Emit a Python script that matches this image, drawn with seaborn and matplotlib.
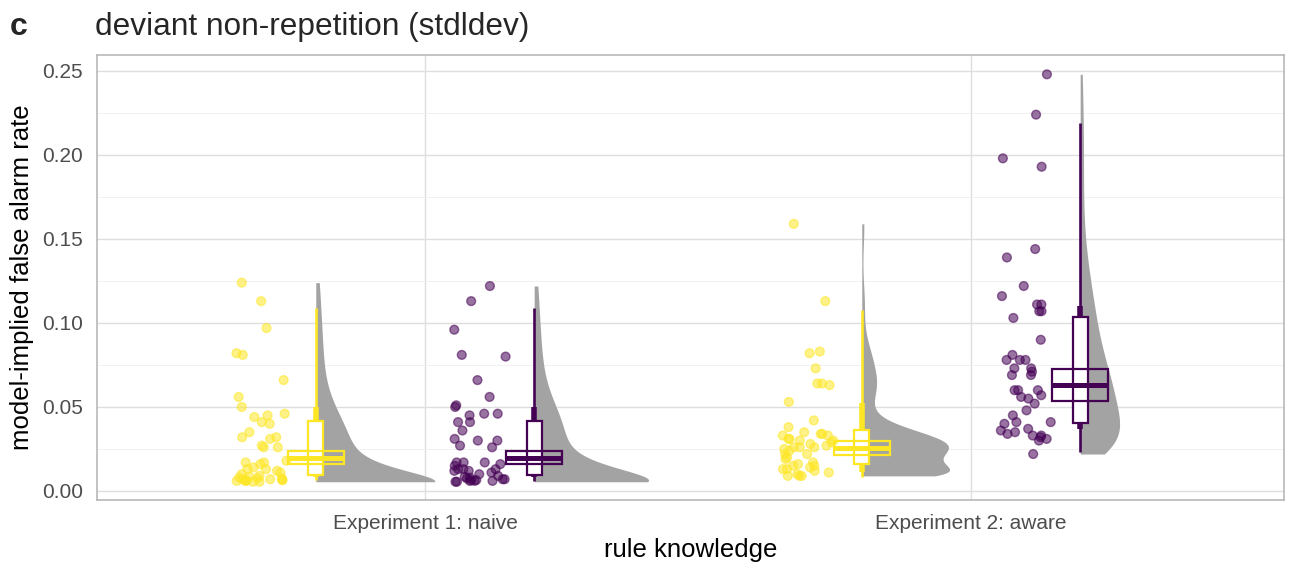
import numpy as np
import pandas as pd
import matplotlib
matplotlib.use("Agg")
import matplotlib.pyplot as plt
from matplotlib.patches import Rectangle
import seaborn as sns

# ---- data ---------------------------------------------------------------
experiments = ["Experiment 1: naive", "Experiment 2: aware"]
conditions = ["first", "second"]
cond_colors = {"first": "#FDE725", "second": "#440154"}

exp1_first = [0.124, 0.113, 0.097, 0.082, 0.081, 0.066, 0.056, 0.050, 0.046, 0.045,
              0.044, 0.041, 0.040, 0.035, 0.032, 0.032, 0.031, 0.027, 0.026, 0.026,
              0.018, 0.017, 0.017, 0.016, 0.014, 0.013, 0.013, 0.012, 0.011, 0.010,
              0.009, 0.0085, 0.008, 0.0075, 0.0075, 0.007, 0.007, 0.0065, 0.0065, 0.006,
              0.006, 0.006, 0.0055, 0.0055, 0.0065]
exp1_second = [0.122, 0.113, 0.096, 0.081, 0.080, 0.066, 0.056, 0.051, 0.050, 0.046,
               0.046, 0.045, 0.041, 0.041, 0.036, 0.031, 0.030, 0.030, 0.027, 0.026,
               0.017, 0.017, 0.017, 0.016, 0.015, 0.013, 0.013, 0.013, 0.012, 0.012,
               0.011, 0.010, 0.009, 0.0085, 0.008, 0.0075, 0.007, 0.007, 0.0065, 0.0065,
               0.006, 0.006, 0.0055, 0.0055, 0.006]
exp2_first = [0.159, 0.113, 0.083, 0.082, 0.073, 0.064, 0.064, 0.063, 0.053, 0.042,
              0.038, 0.035, 0.034, 0.033, 0.034, 0.033, 0.030, 0.031, 0.030, 0.031,
              0.026, 0.026, 0.025, 0.027, 0.026, 0.024, 0.022, 0.022, 0.017, 0.015,
              0.013, 0.013, 0.014, 0.015, 0.016, 0.012, 0.009, 0.009, 0.010, 0.009,
              0.011, 0.020, 0.019, 0.028, 0.029]
exp2_second = [0.248, 0.224, 0.198, 0.193, 0.144, 0.139, 0.122, 0.116, 0.111, 0.111,
               0.107, 0.107, 0.103, 0.090, 0.081, 0.078, 0.078, 0.078, 0.073, 0.073,
               0.069, 0.069, 0.071, 0.060, 0.060, 0.060, 0.057, 0.056, 0.055, 0.052,
               0.048, 0.045, 0.041, 0.040, 0.041, 0.037, 0.036, 0.034, 0.033, 0.032,
               0.033, 0.031, 0.030, 0.035, 0.022]

# interval summaries per group (order: exp1 first, exp1 second, exp2 first, exp2 second)
outer_lo = [0.0065, 0.0060, 0.0085, 0.0234]
outer_hi = [0.1090, 0.1090, 0.1077, 0.2188]
inner_lo = [0.0085, 0.0085, 0.0115, 0.0367]
inner_hi = [0.0500, 0.0500, 0.0526, 0.1100]
box_lo = [0.0095, 0.0095, 0.0159, 0.0407]
box_hi = [0.0417, 0.0417, 0.0363, 0.1037]
mean_lo = [0.0160, 0.0160, 0.0214, 0.0536]
mean_mid = [0.0198, 0.0198, 0.0258, 0.0631]
mean_hi = [0.0238, 0.0238, 0.0300, 0.0726]

y_ticks = [0.00, 0.05, 0.10, 0.15, 0.20, 0.25]

# ---- long-form table ------------------------------------------------------
groups = [(0, "first", exp1_first), (0, "second", exp1_second),
          (1, "first", exp2_first), (1, "second", exp2_second)]
dodge = {"first": -0.2, "second": 0.2}
rows = []
for ei, cond, vals in groups:
    for v in vals:
        rows.append({"experiment": experiments[ei], "condition": cond,
                     "pos": ei + dodge[cond], "rate": v})
df = pd.DataFrame(rows)

rng = np.random.default_rng(11)
df["xj"] = df["pos"] - 0.1 + rng.uniform(-0.048, 0.048, len(df))


def nrd0(v):
    v = np.asarray(v)
    sd = v.std(ddof=1)
    iqr = np.subtract(*np.percentile(v, [75, 25]))
    lo = min(sd, iqr / 1.34) if iqr > 0 else sd
    return 0.9 * lo * len(v) ** -0.2


def trimmed_sqrt_kde(v, n=512):
    """Gaussian KDE on square-root rates, mapped back to the rate scale (trimmed)."""
    v = np.asarray(v)
    sv = np.sqrt(v)
    grid = np.linspace(v.min(), v.max(), n)
    bw = nrd0(sv)
    z = (np.sqrt(grid)[:, None] - sv[None, :]) / bw
    dens = np.exp(-0.5 * z ** 2).sum(axis=1) / (len(v) * bw * np.sqrt(2 * np.pi))
    return grid, dens / (2 * np.sqrt(grid))


# ---- figure ---------------------------------------------------------------
sns.set_theme(style="white")
plt.rcParams["font.family"] = ["Liberation Sans", "DejaVu Sans"]

W, H = 1301, 564
fig = plt.figure(figsize=(W / 100, H / 100), dpi=100)
ax = fig.add_axes([97 / W, 1 - 500 / H, (1284 - 97) / W, (500 - 55) / H])

positions = [g[0] + dodge[g[1]] for g in groups]

# half violins on the right of each group, area-scaled across groups
kdes = [trimmed_sqrt_kde(df.loc[df["pos"] == p, "rate"]) for p in positions]
dmax = max(d.max() for _, d in kdes)
half_width = 0.218
for p, (grid, dens) in zip(positions, kdes):
    ax.fill_betweenx(grid, p, p + half_width * dens / dmax, color="#A3A3A3",
                     linewidth=0, zorder=2)

# jittered points
sns.scatterplot(data=df, x="xj", y="rate", hue="condition", palette=cond_colors,
                s=40, alpha=0.55, linewidth=1.0, legend=False, zorder=3, ax=ax)
for coll in ax.collections[-1:]:
    coll.set_edgecolors(coll.get_facecolors())

# interval lines, box and mean crossbar
for i, (ei, cond, _) in enumerate(groups):
    x = positions[i]
    col = cond_colors[cond]
    ax.vlines(x, outer_lo[i], outer_hi[i], color=col, linewidth=1.9, zorder=4)
    ax.vlines(x, inner_lo[i], inner_hi[i], color=col, linewidth=4.0, zorder=4)
    bw = 0.0135
    ax.add_patch(Rectangle((x - bw, box_lo[i]), 2 * bw, box_hi[i] - box_lo[i],
                           facecolor="white", edgecolor=col, linewidth=1.6, zorder=5))
    cw = 0.051
    ax.add_patch(Rectangle((x - cw, mean_lo[i]), 2 * cw, mean_hi[i] - mean_lo[i],
                           facecolor="none", edgecolor=col, linewidth=1.6, zorder=6))
    ax.hlines(mean_mid[i], x - cw, x + cw, color=col, linewidth=3.6, zorder=6)

# ---- axes styling ---------------------------------------------------------
ax.set_xlim(-0.6007, 1.5733)
ax.set_ylim(-0.00536, 0.2595)
ax.set_xticks([0, 1])
ax.set_xticklabels(experiments)
ax.set_yticks(y_ticks)
ax.set_yticklabels([f"{t:.2f}" for t in y_ticks])
ax.set_yticks([0.025, 0.075, 0.125, 0.175, 0.225], minor=True)
ax.set_xlabel("")
ax.set_ylabel("")

ax.grid(True, which="major", color="#DEDEDE", linewidth=1.0, zorder=0)
ax.grid(True, which="minor", axis="y", color="#EFEFEF", linewidth=0.6, zorder=0)
ax.set_axisbelow(True)
for sp in ax.spines.values():
    sp.set_visible(True)
    sp.set_color("#B3B3B3")
    sp.set_linewidth(1.1)
ax.tick_params(axis="both", which="major", length=3.5, width=0.9, color="#B3B3B3",
               labelsize=15, labelcolor="#4D4D4D", pad=6.5)
ax.tick_params(axis="x", which="major", pad=6.5)
ax.tick_params(axis="y", which="minor", length=0)

fig.text(690.5 / W, 1 - 550 / H, "rule knowledge", fontsize=18.5, color="black",
         ha="center", va="center")
fig.text(22 / W, 1 - 277.5 / H, "model-implied false alarm rate", fontsize=18.5,
         color="black", ha="center", va="center", rotation=90)
fig.text(95 / W, 1 - 35 / H, "deviant non-repetition (stdldev)", fontsize=22.8,
         ha="left", va="baseline")
fig.text(10 / W, 1 - 35 / H, "c", fontsize=23, fontweight="bold",
         ha="left", va="baseline")

fig.savefig("out.png", dpi=100, facecolor="white")
